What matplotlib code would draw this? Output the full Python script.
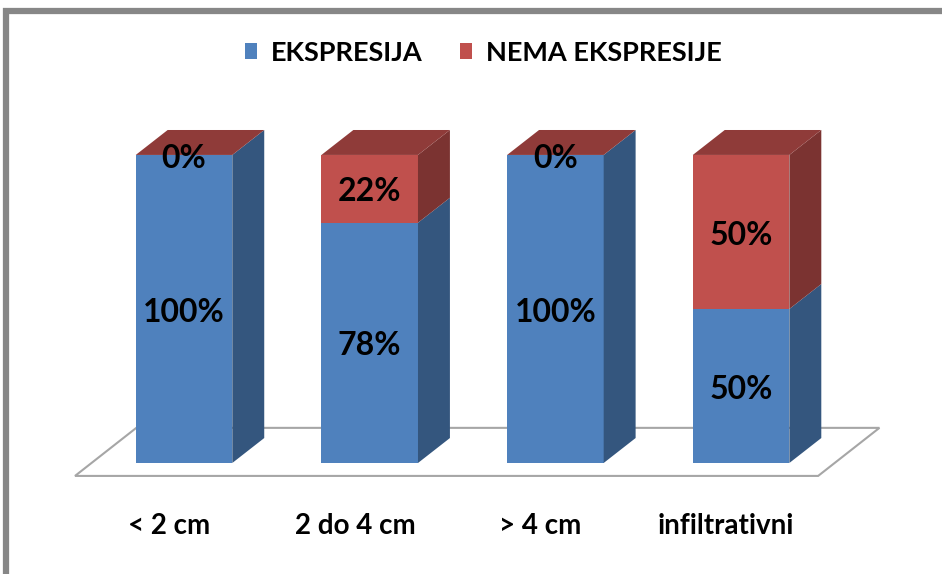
import matplotlib
matplotlib.use("Agg")
import matplotlib.pyplot as plt
from matplotlib.patches import Polygon, Rectangle, Patch

plt.rcParams['font.family'] = ['Lato', 'DejaVu Sans']

# tumour size groups and share of cases (%)
categories = ['< 2 cm', '2 do 4 cm', '> 4 cm', 'infiltrativni']
ekspresija = [100, 78, 100, 50]
nema_ekspresije = [0, 22, 0, 50]
series_names = ['EKSPRESIJA', 'NEMA EKSPRESIJE']

# front / side / top shades for each series
blue = ('#4F81BD', '#34567E', '#3F6797')
red = ('#C0504D', '#7B3331', '#8F3B39')

bar_w = 0.52
dx, dy = 0.172, 8.1          # depth of a bar
fdx, fdy = 0.33, 15.6        # depth of the floor


def box(ax, x, y0, y1, shades):
    front, side, top = shades
    ax.add_patch(Polygon([(x, y0), (x + bar_w, y0), (x + bar_w, y1), (x, y1)],
                         closed=True, fc=front, ec='none', zorder=3))
    ax.add_patch(Polygon([(x + bar_w, y0), (x + bar_w + dx, y0 + dy),
                          (x + bar_w + dx, y1 + dy), (x + bar_w, y1)],
                         closed=True, fc=side, ec='none', zorder=3))


def lid(ax, x, y, color):
    ax.add_patch(Polygon([(x, y), (x + bar_w, y), (x + bar_w + dx, y + dy), (x + dx, y + dy)],
                         closed=True, fc=color, ec='none', zorder=3))


fig = plt.figure(figsize=(9.42, 5.74), dpi=100)
ax = fig.add_axes([0, 0, 1, 1])
ax.set_xlim(-0.991, 4.082)
ax.set_ylim(-36.04, 150.3)
ax.axis('off')

# floor
n = len(categories)
fx0, fx1 = -0.587, n - 1 + 0.415
fy = -4.2
ax.add_patch(Polygon([(fx0, fy), (fx1, fy), (fx1 + fdx, fy + fdy), (fx0 + fdx, fy + fdy)],
                     closed=True, fc='white', ec='#A6A6A6', lw=1.5, zorder=1))

for i, (a, b) in enumerate(zip(ekspresija, nema_ekspresije)):
    x = i - bar_w / 2
    box(ax, x, 0, a, blue)
    box(ax, x, a, a + b, red)
    lid(ax, x, a + b, red[2])
    ax.text(i, a / 2 - 1, f'{a}%', ha='center', va='center', fontsize=23,
            fontweight='bold', zorder=5)
    ax.text(i, a + b / 2 - 1, f'{b}%', ha='center', va='center', fontsize=23,
            fontweight='bold', zorder=5)
    ax.text(i - 0.08, -20.5, categories[i], ha='center', va='center', fontsize=20,
            fontweight='bold')

handles = [Patch(fc=blue[0], ec='none'), Patch(fc=red[0], ec='none')]
fig.legend(handles, series_names, loc='center', bbox_to_anchor=(0.513, 0.908),
           ncol=2, frameon=False, prop={'weight': 'bold', 'size': 19.5},
           handlelength=0.45, handleheight=0.55, handletextpad=0.5, columnspacing=1.4)

# outer frame
fig.add_artist(Rectangle((5.5 / 942, -0.1), 1.1, (574 - 11) / 574 + 0.1,
                         transform=fig.transFigure, fill=False, ec='#878787', lw=4.5))

fig.savefig('out.png', dpi=100)
